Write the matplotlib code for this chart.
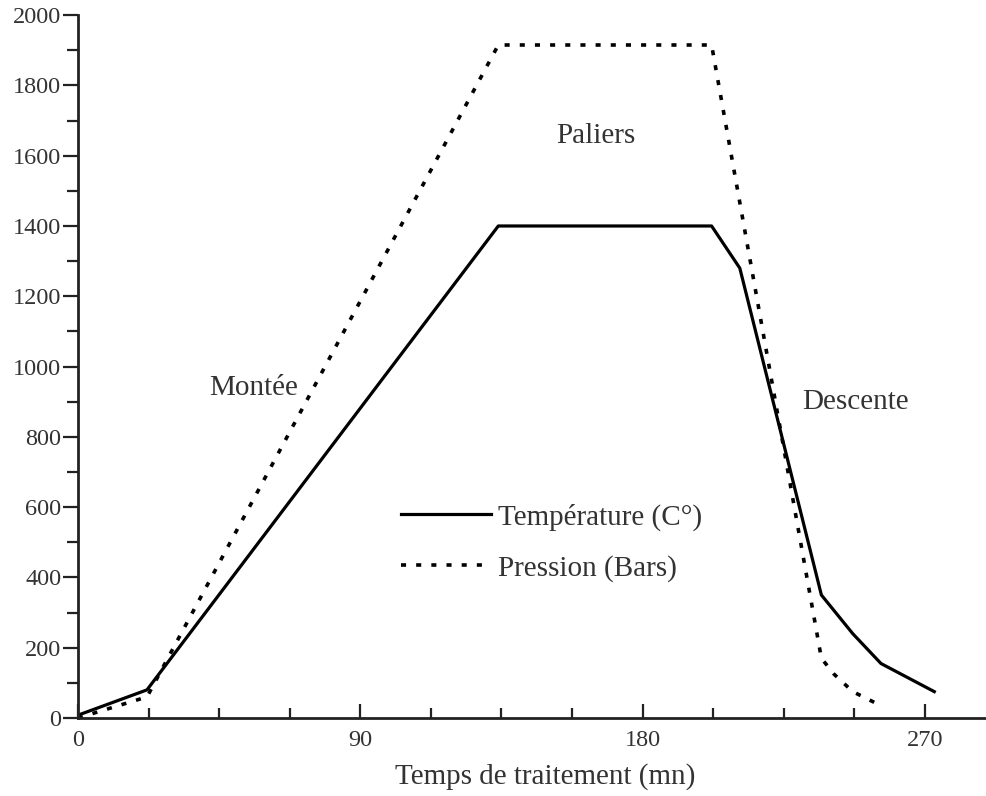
import matplotlib
matplotlib.use("Agg")
from matplotlib import pyplot as plt
from matplotlib.ticker import MultipleLocator

# temps (mn) et valeurs
temp_x = [0, 22, 134, 202, 211, 237, 247, 256, 273]
temp_y = [8, 80, 1400, 1400, 1280, 350, 240, 155, 75]

pres_x = [0, 22, 134, 202, 237, 241, 247, 256]
pres_y = [0, 60, 1915, 1915, 170, 125, 75, 35]

phase_labels = ["Montée", "Paliers", "Descente"]
phase_pos = [(56, 940), (165, 1655), (248, 900)]

x_major = [0, 90, 180, 270]

plt.rcParams['font.family'] = ['Liberation Serif', 'DejaVu Serif']
txt_color = '#333333'

fig = plt.figure(figsize=(9.87, 7.96), dpi=100)
ax = fig.add_axes([0.079, 0.098, 0.921, 0.883])

ax.plot(temp_x, temp_y, color='black', lw=2.3, label='Température (C°)')
ax.plot(pres_x, pres_y, color='black', lw=2.6, linestyle=(0, (1.4, 2.8)),
        label='Pression (Bars)')

for lab, (px, py) in zip(phase_labels, phase_pos):
    ax.text(px, py, lab, fontsize=21, color=txt_color, ha='center', va='center')

ax.set_xlim(0, 289.8)
ax.set_ylim(0, 2000)
ax.set_xticks(x_major)
ax.xaxis.set_minor_locator(MultipleLocator(22.5))
ax.yaxis.set_major_locator(MultipleLocator(200))
ax.yaxis.set_minor_locator(MultipleLocator(100))

for s in ['top', 'right']:
    ax.spines[s].set_visible(False)
for s in ['left', 'bottom']:
    ax.spines[s].set_linewidth(2.0)
    ax.spines[s].set_color('#222222')

ax.tick_params(axis='x', which='major', direction='in', length=10, width=1.6,
               pad=9, labelsize=17.5, labelcolor=txt_color, color='#222222')
ax.tick_params(axis='x', which='minor', direction='in', length=7, width=1.6,
               color='#222222')
ax.tick_params(axis='y', which='major', direction='out', length=11, width=1.6,
               pad=1, labelsize=17.5, labelcolor=txt_color, color='#222222')
ax.tick_params(axis='y', which='minor', direction='out', length=8, width=1.6,
               color='#222222')

ax.set_xlabel('Temps de traitement (mn)', fontsize=21, color=txt_color)
ax.xaxis.set_label_coords(0.514, -0.064)

leg = ax.legend(loc='upper left', bbox_to_anchor=(0.342, 0.322), frameon=False,
                fontsize=21, handlelength=3.1, handletextpad=0.25,
                labelspacing=0.82, borderaxespad=0)
for t in leg.get_texts():
    t.set_color(txt_color)

fig.savefig('out.png', dpi=100)
